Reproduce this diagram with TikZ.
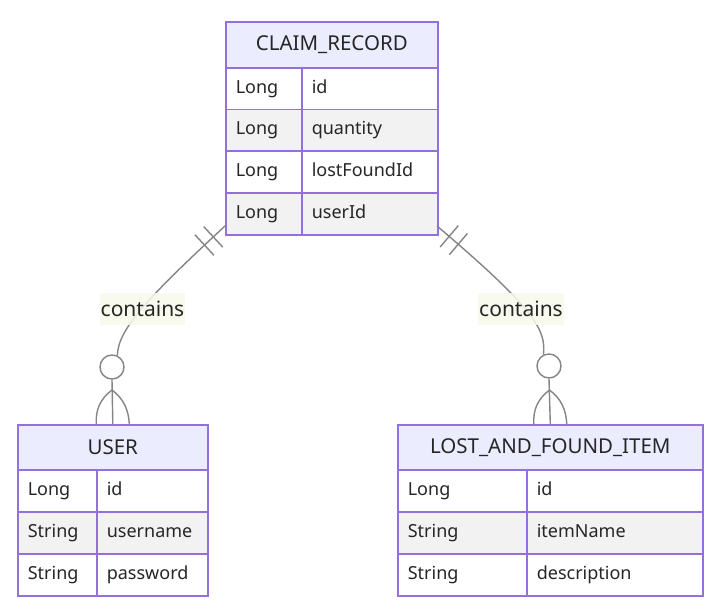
\documentclass[tikz,border=0pt]{standalone}
\usepackage{fontspec}
\setmainfont{Noto Sans}
\usetikzlibrary{calc}
\definecolor{boxc}{HTML}{9370DB}
\definecolor{hdrfill}{HTML}{ECECFF}
\definecolor{altfill}{HTML}{F2F2F2}
\definecolor{txt}{HTML}{262626}
\definecolor{edgec}{HTML}{858585}
\definecolor{lblbg}{RGB}{246,250,234}
\tikzset{
 ent/.style={draw=boxc, line width=1.6pt, fill=hdrfill, text=txt, anchor=north west, inner sep=0pt, font=\fontsize{20.5}{24}\selectfont},
 cell/.style={draw=boxc, line width=1.6pt, text=txt, anchor=north west, inner xsep=10pt, inner ysep=0pt, align=left, text height=13pt, text depth=4pt, font=\fontsize{18}{21}\selectfont},
 oddrow/.style={cell, fill=white},
 evenrow/.style={cell, fill=altfill},
 rel/.style={draw=edgec, line width=1.4pt},
 opt/.style={circle, draw=edgec, line width=1.4pt, fill=white, minimum size=24pt, inner sep=0pt},
 lbl/.style={fill=lblbg, fill opacity=0.85, text opacity=1, text=txt, inner xsep=1pt, inner ysep=0pt, minimum height=32pt, font=\fontsize{21}{24}\selectfont},
}
\begin{document}
\begin{tikzpicture}[x=1pt,y=-1pt]
\fill[white] (0,0) rectangle (712,607);
\useasboundingbox (0,0) rectangle (712,607);

% ---- CLAIM_RECORD ----
\node[ent, minimum width=212pt, minimum height=46pt] (cr) at (225,21) {CLAIM\_RECORD};
\node[oddrow, text width=56pt, minimum height=41.75pt] (cr1t) at (225,67) {Long};
\node[oddrow, text width=116pt, minimum height=41.75pt] (cr1n) at (301,67) {id};
\node[evenrow, text width=56pt, minimum height=41.75pt] (cr2t) at (225,108.75) {Long};
\node[evenrow, text width=116pt, minimum height=41.75pt] (cr2n) at (301,108.75) {quantity};
\node[oddrow, text width=56pt, minimum height=41.75pt] (cr3t) at (225,150.5) {Long};
\node[oddrow, text width=116pt, minimum height=41.75pt] (cr3n) at (301,150.5) {lostFoundId};
\node[evenrow, text width=56pt, minimum height=41.75pt] (cr4t) at (225,192.25) {Long};
\node[evenrow, text width=116pt, minimum height=41.75pt] (cr4n) at (301,192.25) {userId};

% ---- USER ----
\node[ent, minimum width=190pt, minimum height=45pt] (u) at (17,424) {USER};
\node[oddrow, text width=59pt, minimum height=42pt] (u1t) at (17,469) {Long};
\node[oddrow, text width=91pt, minimum height=42pt] (u1n) at (96,469) {id};
\node[evenrow, text width=59pt, minimum height=42pt] (u2t) at (17,511) {String};
\node[evenrow, text width=91pt, minimum height=42pt] (u2n) at (96,511) {username};
\node[oddrow, text width=59pt, minimum height=42pt] (u3t) at (17,553) {String};
\node[oddrow, text width=91pt, minimum height=42pt] (u3n) at (96,553) {password};

% ---- LOST_AND_FOUND_ITEM ----
\node[ent, minimum width=305pt, minimum height=45pt] (lf) at (397,424) {LOST\_AND\_FOUND\_ITEM};
\node[oddrow, text width=109pt, minimum height=42pt] (lf1t) at (397,469) {Long};
\node[oddrow, text width=156pt, minimum height=42pt] (lf1n) at (526,469) {id};
\node[evenrow, text width=109pt, minimum height=42pt] (lf2t) at (397,511) {String};
\node[evenrow, text width=156pt, minimum height=42pt] (lf2n) at (526,511) {itemName};
\node[oddrow, text width=109pt, minimum height=42pt] (lf3t) at (397,553) {String};
\node[oddrow, text width=156pt, minimum height=42pt] (lf3n) at (526,553) {description};

% ---- relationship CLAIM_RECORD -> USER ----
\coordinate (s1) at (225,226);
\coordinate (k1a) at (145,300);
\coordinate (k1b) at (118,330);
\node[opt] (o1) at (112,367) {};
\draw[rel] (s1) .. controls (k1a) and (k1b) .. (o1.65);
\coordinate (b1a) at ($(s1)!16pt!(k1a)$);
\coordinate (b1b) at ($(s1)!28pt!(k1a)$);
\draw[rel] ($(b1a)!14pt!90:(k1a)$) -- ($(b1a)!14pt!-90:(k1a)$);
\draw[rel] ($(b1b)!14pt!90:(k1a)$) -- ($(b1b)!14pt!-90:(k1a)$);
\coordinate (f1) at (112,390);
\coordinate (f1l) at ($(u.north)+(-16.5,0)$);
\coordinate (f1r) at ($(u.north)+(16.5,0)$);
\draw[rel] (o1.south) -- (u.north);
\draw[rel] (f1) .. controls (100,399) and (95.5,410) .. (f1l);
\draw[rel] (f1) .. controls (124,399) and (128.5,410) .. (f1r);

% ---- relationship CLAIM_RECORD -> LOST_AND_FOUND_ITEM ----
\coordinate (s2) at (437,226);
\coordinate (k2a) at (536,310);
\coordinate (k2b) at (546,330);
\node[opt] (o2) at (549,366) {};
\draw[rel] (s2) .. controls (k2a) and (k2b) .. (o2.116);
\coordinate (b2a) at ($(s2)!16pt!(k2a)$);
\coordinate (b2b) at ($(s2)!28pt!(k2a)$);
\draw[rel] ($(b2a)!14pt!90:(k2a)$) -- ($(b2a)!14pt!-90:(k2a)$);
\draw[rel] ($(b2b)!14pt!90:(k2a)$) -- ($(b2b)!14pt!-90:(k2a)$);
\coordinate (f2) at (549.5,390);
\coordinate (f2l) at ($(lf.north)+(-16.5,0)$);
\coordinate (f2r) at ($(lf.north)+(16.5,0)$);
\draw[rel] (o2.south) -- (lf.north);
\draw[rel] (f2) .. controls (537.5,399) and (533,410) .. (f2l);
\draw[rel] (f2) .. controls (561.5,399) and (566,410) .. (f2r);

% ---- labels ----
\node[lbl] (l1) at (142.5,309) {contains};
\node[lbl] (l2) at (521,309) {contains};
\end{tikzpicture}
\end{document}
